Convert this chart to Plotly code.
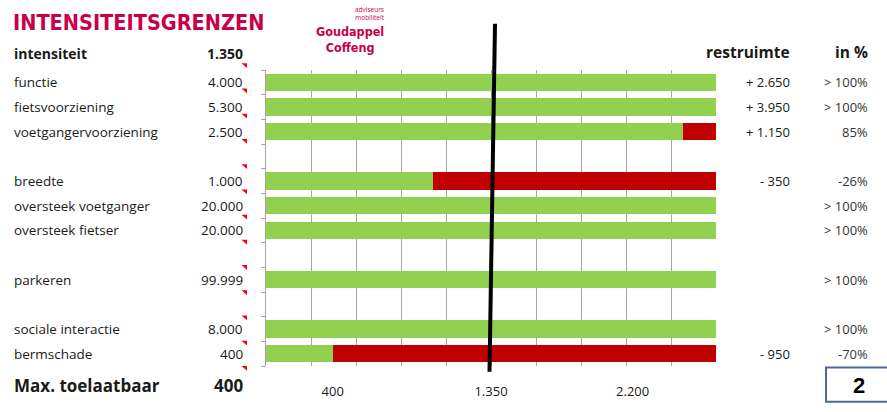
import plotly.graph_objects as go

# ---------------- data ----------------
categories = ["functie", "fietsvoorziening", "voetgangervoorziening", "",
              "breedte", "oversteek voetganger", "oversteek fietser", "",
              "parkeren", "", "sociale interactie", "bermschade"]
limits = [4000, 5300, 2500, None, 1000, 20000, 20000, None, 99999, None, 8000, 400]
restruimte = ["+ 2.650", "+ 3.950", "+ 1.150", "", "- 350", "", "", "", "", "", "", "- 950"]
in_pct = ["> 100%", "> 100%", "85%", "", "-26%", "> 100%", "> 100%", "", "> 100%", "", "> 100%", "-70%"]
intensity = 1350
axis_max = 2700
grid_step = 270
tick_vals = [400, 1350, 2200]
tick_text = ["400", "1.350", "2.200"]

# ---------------- layout constants ----------------
W, H = 887, 412
L, R, T, B = 266, 716, 70, 377   # plot area in pixels
GREEN = "#92D050"
RED = "#C00000"
CRIMSON = "#C8004B"
TXT = "#1a1a1a"
FONT = "Open Sans, Noto Sans, sans-serif"


def fmt(v):
    return f"{v:,}".replace(",", ".")


def px(x):
    return (x - L) / (R - L)


def py(y):
    return (B - y) / (B - T)


rows = list(range(len(categories)))
green = [None if v is None else min(v, axis_max) for v in limits]
red = [None if v is None else (axis_max - v if v < axis_max else 0) for v in limits]

fig = go.Figure()
fig.add_trace(go.Bar(y=rows, x=green, orientation="h", marker=dict(color=GREEN, line_width=0),
                     hoverinfo="skip", showlegend=False))
fig.add_trace(go.Bar(y=rows, x=red, orientation="h", marker=dict(color=RED, line_width=0),
                     hoverinfo="skip", showlegend=False))

n = len(categories)
fig.update_layout(
    width=W, height=H,
    margin=dict(l=L, r=W - R, t=T, b=H - B, pad=0),
    paper_bgcolor="white", plot_bgcolor="white",
    barmode="stack", bargap=0.285,
    showlegend=False,
    font=dict(family=FONT, color=TXT, size=13),
    xaxis=dict(range=[0, axis_max], showgrid=False, zeroline=False, showline=False,
               tickmode="array", tickvals=tick_vals, ticktext=tick_text, ticks="",
               ticklabelstandoff=16, tickfont=dict(size=13, family=FONT, color=TXT),
               minor=dict(showgrid=True, gridcolor="#A6A6A6", gridwidth=1, tick0=0, dtick=grid_step)),
    yaxis=dict(range=[n - 0.5, -0.5], showgrid=False, zeroline=False, showline=True,
               linecolor="#A6A6A6", linewidth=1, tickmode="array",
               tickvals=[i - 0.5 for i in range(n + 1)], ticks="outside", ticklen=4,
               tickcolor="#A6A6A6", showticklabels=False),
)

ann = []
# row labels and limit values
for i, (c, v) in enumerate(zip(categories, limits)):
    if c:
        ann.append(dict(x=px(12), y=i, xref="paper", yref="y", text=c, showarrow=False,
                        xanchor="left", yanchor="middle", font=dict(size=13.5)))
    if v is not None:
        ann.append(dict(x=px(245), y=i, xref="paper", yref="y", text=fmt(v), showarrow=False,
                        xanchor="right", yanchor="middle", font=dict(size=13.5)))
    if restruimte[i]:
        ann.append(dict(x=px(792), y=i, xref="paper", yref="y", text=restruimte[i], showarrow=False,
                        xanchor="right", yanchor="middle", font=dict(size=13)))
    if in_pct[i]:
        ann.append(dict(x=px(870), y=i, xref="paper", yref="y", text=in_pct[i], showarrow=False,
                        xanchor="right", yanchor="middle", font=dict(size=13, color="#333")))

# header row
ann.append(dict(x=px(12), y=py(53), xref="paper", yref="paper", text="<b>intensiteit</b>",
                showarrow=False, xanchor="left", yanchor="middle", font=dict(size=14)))
ann.append(dict(x=px(245), y=py(53), xref="paper", yref="paper", text="<b>" + fmt(intensity) + "</b>",
                showarrow=False, xanchor="right", yanchor="middle", font=dict(size=14)))
ann.append(dict(x=px(792), y=py(51), xref="paper", yref="paper", text="<b>restruimte</b>",
                showarrow=False, xanchor="right", yanchor="middle", font=dict(size=15.5)))
ann.append(dict(x=px(870), y=py(51), xref="paper", yref="paper", text="<b>in %</b>",
                showarrow=False, xanchor="right", yanchor="middle", font=dict(size=15.5)))

# footer
max_allowed = min(v for v in limits if v is not None)
ann.append(dict(x=px(12), y=py(397), xref="paper", yref="paper", text="<b>Max. toelaatbaar</b>",
                showarrow=False, xanchor="left", yanchor="middle", font=dict(size=17)))
ann.append(dict(x=px(245), y=py(397), xref="paper", yref="paper", text="<b>" + fmt(max_allowed) + "</b>",
                showarrow=False, xanchor="right", yanchor="middle", font=dict(size=17)))

# title
ann.append(dict(x=px(11), y=py(21), xref="paper", yref="paper", text="<b>INTENSITEITSGRENZEN</b>",
                showarrow=False, xanchor="left", yanchor="middle",
                font=dict(size=21.5, color=CRIMSON, family="DejaVu Sans Condensed, sans-serif")))

# logo
ann.append(dict(x=px(386), y=py(11), xref="paper", yref="paper", text="adviseurs<br>mobiliteit",
                showarrow=False, xanchor="right", yanchor="middle", align="right", borderpad=0,
                font=dict(size=6.5, color=CRIMSON, family=FONT)))
ann.append(dict(x=px(350), y=py(38), xref="paper", yref="paper", text="<b>Goudappel<br>Coffeng</b>",
                showarrow=False, xanchor="center", yanchor="middle", align="center", borderpad=0,
                font=dict(size=12.5, color=CRIMSON, family="DejaVu Sans Condensed, sans-serif")))

# page number box
ann.append(dict(x=px(859), y=py(397), xref="paper", yref="paper", text="<b>2</b>",
                showarrow=False, xanchor="center", yanchor="middle",
                font=dict(size=22, color="#000", family="Liberation Sans, Arial, sans-serif")))

fig.update_layout(annotations=ann)

shapes = []
# red comment triangles at the row boundaries of the value column
row_px = (B - T) / n
for k in range(n + 1):
    yb = T + k * row_px
    off = -7 + 7 * k / n
    top = yb + off
    bot = top + 5
    x0, x1 = px(241.5), px(247)
    shapes.append(dict(type="path", xref="paper", yref="paper",
                       path=f"M {x0},{py(top)} L {x1},{py(top)} L {x1},{py(bot)} Z",
                       fillcolor="#FF0000", line=dict(width=0)))
# intensity line (hand-drawn, slightly tilted)
shapes.append(dict(type="line", xref="x", yref="paper", x0=intensity + 24, y0=py(22),
                   x1=intensity - 9, y1=py(383), line=dict(color="black", width=4)))
# page box
shapes.append(dict(type="rect", xref="paper", yref="paper", x0=px(826), x1=px(889),
                   y0=py(378.5), y1=py(414), line=dict(color="#4F6A8F", width=2), fillcolor="white",
                   layer="below"))
fig.update_layout(shapes=shapes)

fig.write_html("out.html")
